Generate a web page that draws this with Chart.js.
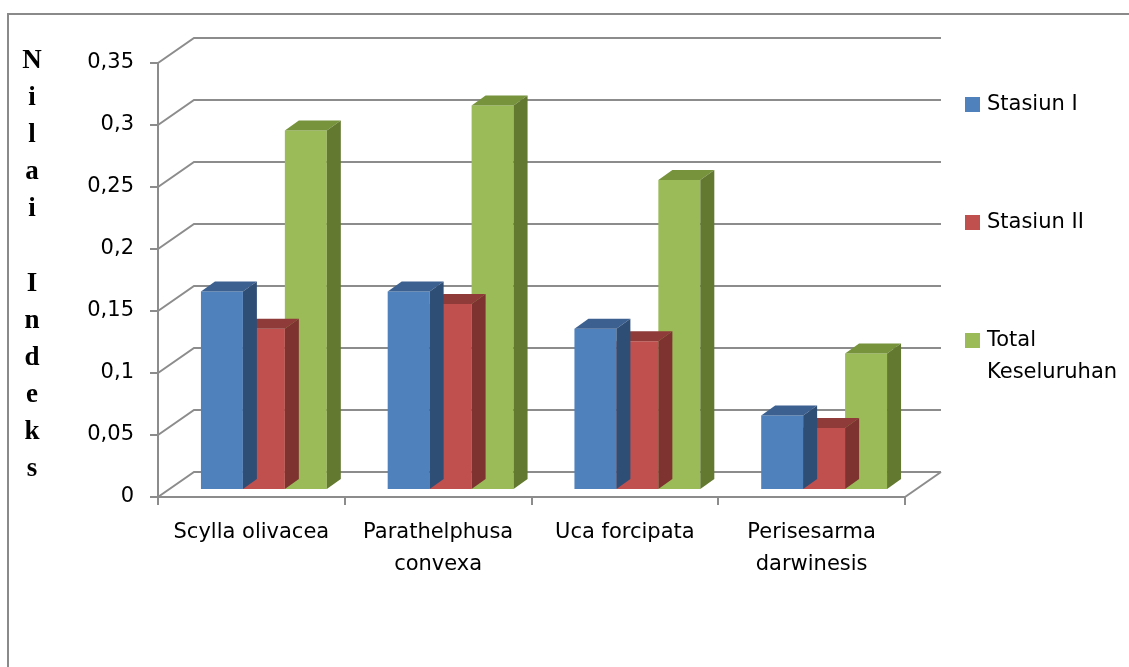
<!DOCTYPE html>
<html>
<head>
<meta charset="utf-8">
<script src="https://cdn.jsdelivr.net/npm/chart.js@4"></script>
<style>
  body { margin: 0; background: #fff; }
  canvas { display: block; }
</style>
</head>
<body>
<canvas id="grafik" width="1129" height="667"></canvas>
<script>
const kategori = [['Scylla olivacea'], ['Parathelphusa', 'convexa'], ['Uca forcipata'], ['Perisesarma', 'darwinesis']];
const stasiun1 = [0.16, 0.16, 0.13, 0.06];
const stasiun2 = [0.13, 0.15, 0.12, 0.05];
const total = [0.29, 0.31, 0.25, 0.11];
const labelSeri = ['Stasiun I', 'Stasiun II', ['Total', 'Keseluruhan']];
const judulY = ['N', 'i', 'l', 'a', 'i', '', 'I', 'n', 'd', 'e', 'k', 's'];

const warnaDepan = ['#4F81BD', '#C0504D', '#9BBB59'];
const warnaAtas = ['#3C6191', '#8E3B39', '#77933C'];
const warnaSamping = ['#2F4E76', '#7E3331', '#62792F'];

const garis = '#8C8C8C';
const fontTeks = '"DejaVu Sans", sans-serif';

// offset of the back wall and of the bars (fake 3D)
const dinding = { dx: 36, dy: -25 };
const geserBatang = { dx: 12.5, dy: -7 };
const kedalaman = { dx: 14, dy: -10 };

const bingkai3d = {
    id: 'bingkai3d',
    beforeDatasetsDraw(chart) {
        const ctx = chart.ctx;
        const y = chart.scales.y;
        const kiri = chart.chartArea.left, kanan = chart.chartArea.right;
        ctx.save();
        ctx.strokeStyle = garis;
        ctx.lineWidth = 2;
        y.ticks.forEach(t => {
            const py = y.getPixelForValue(t.value);
            ctx.beginPath();
            ctx.moveTo(kiri, py);
            ctx.lineTo(kiri + dinding.dx, py + dinding.dy);
            ctx.lineTo(kanan + dinding.dx, py + dinding.dy);
            ctx.stroke();
        });
        const dasar = y.getPixelForValue(0);
        ctx.beginPath();
        ctx.moveTo(kanan, dasar);
        ctx.lineTo(kanan + dinding.dx, dasar + dinding.dy);
        ctx.stroke();
        ctx.restore();

        ctx.save();
        ctx.translate(geserBatang.dx, geserBatang.dy);
    },
    afterDatasetDraw(chart, args) {
        const ctx = chart.ctx;
        const i = args.index;
        args.meta.data.forEach(bar => {
            const p = bar.getProps(['x', 'y', 'base', 'width'], true);
            const l = p.x - p.width / 2, r = p.x + p.width / 2;
            ctx.fillStyle = warnaAtas[i];
            ctx.beginPath();
            ctx.moveTo(l, p.y);
            ctx.lineTo(l + kedalaman.dx, p.y + kedalaman.dy);
            ctx.lineTo(r + kedalaman.dx, p.y + kedalaman.dy);
            ctx.lineTo(r, p.y);
            ctx.closePath();
            ctx.fill();
            ctx.fillStyle = warnaSamping[i];
            ctx.beginPath();
            ctx.moveTo(r, p.y);
            ctx.lineTo(r + kedalaman.dx, p.y + kedalaman.dy);
            ctx.lineTo(r + kedalaman.dx, p.base + kedalaman.dy);
            ctx.lineTo(r, p.base);
            ctx.closePath();
            ctx.fill();
        });
    },
    afterDatasetsDraw(chart) {
        chart.ctx.restore();
    },
    afterDraw(chart) {
        const ctx = chart.ctx;
        ctx.save();
        // outer frame
        ctx.strokeStyle = '#8A8A8A';
        ctx.lineWidth = 2;
        ctx.strokeRect(8, 14, 1140, 700);

        // vertical axis title
        ctx.fillStyle = '#000';
        ctx.font = 'bold 27px "Liberation Serif", serif';
        ctx.textAlign = 'center';
        ctx.textBaseline = 'alphabetic';
        judulY.forEach((h, k) => ctx.fillText(h, 32, 68 + k * 37.1));

        // legend
        ctx.font = '21px ' + fontTeks;
        ctx.textAlign = 'left';
        ctx.textBaseline = 'middle';
        const posisi = [105, 223, 341];
        chart.data.datasets.forEach((ds, k) => {
            ctx.fillStyle = ds.backgroundColor;
            ctx.fillRect(965, posisi[k] - 8, 15, 15);
            ctx.fillStyle = '#000';
            const baris = Array.isArray(ds.label) ? ds.label : [ds.label];
            baris.forEach((b, j) => ctx.fillText(b, 987, posisi[k] + j * 32));
        });
        ctx.restore();
    }
};

new Chart(document.getElementById('grafik'), {
    type: 'bar',
    data: {
        labels: kategori,
        datasets: [
            { label: labelSeri[0], data: stasiun1, backgroundColor: warnaDepan[0] },
            { label: labelSeri[1], data: stasiun2, backgroundColor: warnaDepan[1] },
            { label: labelSeri[2], data: total, backgroundColor: warnaDepan[2] }
        ]
    },
    options: {
        responsive: false,
        animation: false,
        devicePixelRatio: 1,
        layout: { padding: { top: 63, right: 224, left: 0, bottom: 0 } },
        datasets: { bar: { categoryPercentage: 0.674, barPercentage: 1.0, clip: false } },
        plugins: {
            legend: { display: false },
            tooltip: { enabled: false }
        },
        scales: {
            y: {
                min: 0,
                max: 0.35,
                ticks: {
                    stepSize: 0.05,
                    padding: 16,
                    color: '#000',
                    font: { family: fontTeks, size: 21 },
                    callback: v => String(Math.round(v * 100) / 100).replace('.', ',')
                },
                grid: { drawOnChartArea: false, drawTicks: true, tickLength: 8, tickColor: garis, lineWidth: 2 },
                border: { color: garis, width: 2 },
                afterFit: s => { s.width = 158; }
            },
            x: {
                ticks: {
                    padding: 12,
                    color: '#000',
                    maxRotation: 0,
                    font: { family: fontTeks, size: 21, lineHeight: 1.5 }
                },
                grid: { drawOnChartArea: false, drawTicks: true, tickLength: 8, tickColor: garis, lineWidth: 2, offset: true },
                border: { color: garis, width: 2 },
                afterFit: s => { s.height = 170; }
            }
        }
    },
    plugins: [bingkai3d]
});
</script>
</body>
</html>
